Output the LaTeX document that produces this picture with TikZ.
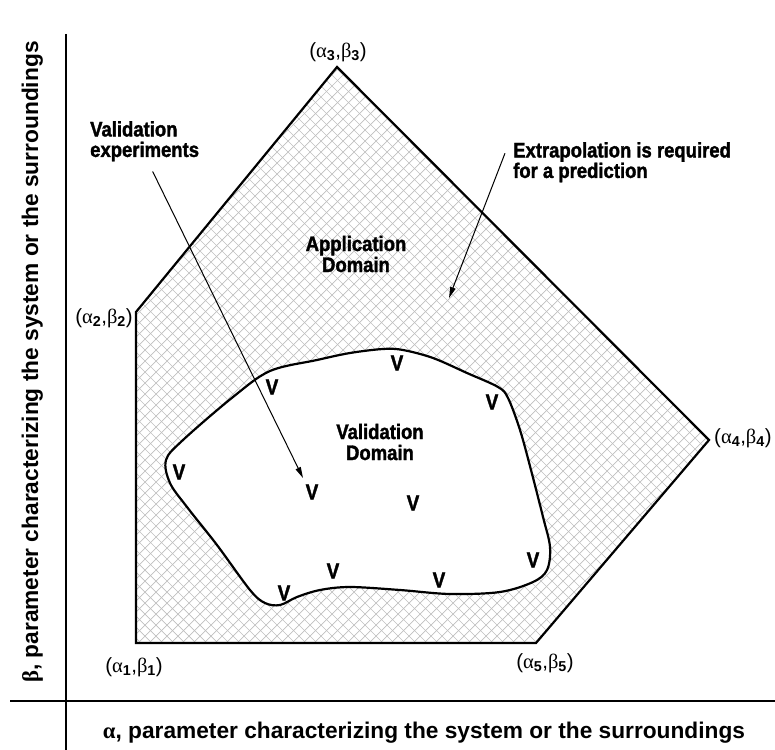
\documentclass[tikz,border=0pt]{standalone}
\usepackage{fontspec}
\setmainfont{Liberation Sans}
\newfontfamily\narrowfont{Liberation Sans Bold}[FakeStretch=0.88, FakeBold=1.6]
\newfontfamily\greekfont{Liberation Serif}
\usetikzlibrary{arrows.meta}
\newcommand\abpair[1]{({\greekfont α}\textsubscript{\bfseries #1},{\greekfont β}\textsubscript{\bfseries #1})}
\begin{document}
\begin{tikzpicture}[x=1bp, y=-1bp, line join=miter,
  dom label/.style={font=\narrowfont\fontsize{21bp}{21bp}\selectfont, align=center, inner sep=0pt},
  note label/.style={font=\narrowfont\fontsize{21bp}{20.5bp}\selectfont, align=left, inner sep=0pt, anchor=north west},
  v node/.style={font=\narrowfont\fontsize{21.5bp}{21bp}\selectfont, inner sep=0pt},
  corner label/.style={font=\fontsize{20.5bp}{20.5bp}\selectfont, inner sep=0pt},
  axis label/.style={font=\bfseries\fontsize{22.7bp}{24bp}\selectfont, inner sep=0pt, anchor=base},
  pointer/.style={line width=1bp, -{Triangle[length=11bp,width=5.5bp]}},
  hatch line/.style={draw=black!25, line width=0.7bp}]
\useasboundingbox (0,0) rectangle (775,750);
% axes
\coordinate (ytop) at (66,34);
\coordinate (ybot) at (66,750);
\coordinate (xleft) at (10,701);
\coordinate (xright) at (775,701);
\draw[line width=2bp] (ytop) -- (ybot);
\draw[line width=2bp] (xleft) -- (xright);
\node[axis label, rotate=90] (blab) at (38,362) {{\greekfont β}, parameter characterizing the system or the surroundings};
\node[axis label] (alab) at (424,738) {{\greekfont α}, parameter characterizing the system or the surroundings};
% application domain
\coordinate (p1) at (136,643);
\coordinate (p2) at (136,312);
\coordinate (p3) at (337,67);
\coordinate (p4) at (709,440);
\coordinate (p5) at (536,643);
\begin{scope}
\clip (p1) -- (p2) -- (p3) -- (p4) -- (p5) -- cycle;
\foreach \c in {0,11,...,1430} {
  \draw[hatch line] (\c,0) -- (\c-750,750);
  \draw[hatch line] (\c-700,0) -- (\c+50,750);
}
\end{scope}
% validation domain
\draw[line width=2.2bp, fill=white] plot[smooth cycle, tension=0.55] coordinates {
  (166,460) (183,440) (233,397) (270,371) (317,360) (350,353) (383,349) (403,350)
  (433,358) (467,373) (498,387) (508,398) (520,430) (531,470) (543,517) (550,547)
  (547,570) (533,582) (500,592) (450,594) (400,590) (350,587) (320,590) (297,597)
  (280,605) (265,603) (250,590) (217,545) (187,507) (170,483)};
\draw[line width=2.2bp] (p1) -- (p2) -- (p3) -- (p4) -- (p5) -- cycle;
\node[corner label, anchor=center] (l1) at (134,667) {\abpair{1}};
\node[corner label, anchor=east] (l2) at (133,318) {\abpair{2}};
\node[corner label, anchor=center] (l3) at (338,52) {\abpair{3}};
\node[corner label, anchor=west] (l4) at (714,438) {\abpair{4}};
\node[corner label, anchor=center] (l5) at (545,663) {\abpair{5}};
% texts
\node[dom label] (app) at (356,254) {Application\\Domain};
\node[dom label] (val) at (380,442) {Validation\\Domain};
\node[note label] (ve) at (90,121) {Validation\\experiments};
\node[note label] (ex) at (513,142) {Extrapolation is required\\for a prediction};
% validation points
\node[v node] (v1) at (272,387) {V};
\node[v node] (v2) at (397,363) {V};
\node[v node] (v3) at (492,402) {V};
\node[v node] (v4) at (179,472) {V};
\node[v node] (v5) at (312,492) {V};
\node[v node] (v6) at (413,503) {V};
\node[v node] (v7) at (533,560) {V};
\node[v node] (v8) at (333,571) {V};
\node[v node] (v9) at (439,580) {V};
\node[v node] (v10) at (284,593) {V};
% arrows
\coordinate (tip1) at (303,478);
\coordinate (tip2) at (449,298);
\draw[pointer] ([xshift=8bp,yshift=-10bp]ve.south) -- (tip1);
\draw[pointer] ([xshift=-8bp,yshift=9bp]ex.west) -- (tip2);
\end{tikzpicture}
\end{document}
